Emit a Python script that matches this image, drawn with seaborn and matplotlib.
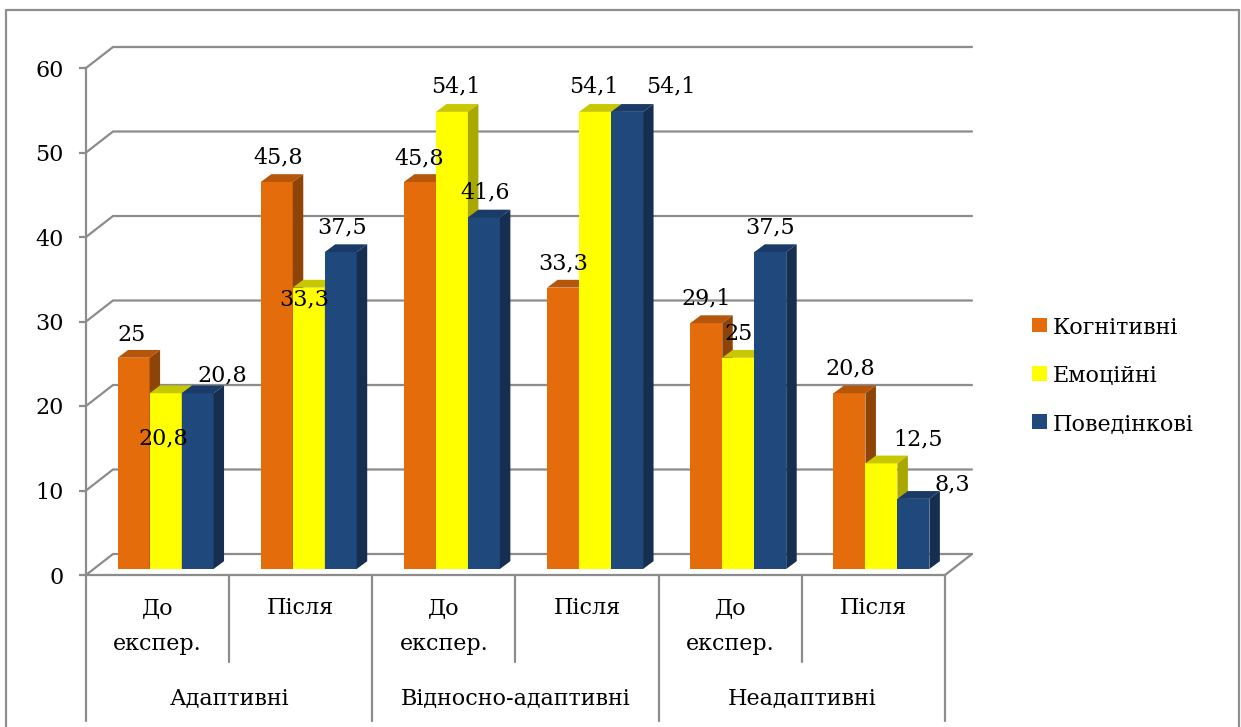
import numpy as np
import pandas as pd
import matplotlib
matplotlib.use("Agg")
import matplotlib.pyplot as plt
import matplotlib.transforms as mtransforms
from matplotlib.patches import Polygon, Rectangle
from matplotlib.lines import Line2D
import seaborn as sns

# ---- data -------------------------------------------------------------
groups = ["Адаптивні", "Відносно-адаптивні", "Неадаптивні"]
stages = ["До\nекспер.", "Після"]
series = ["Когнітивні", "Емоційні", "Поведінкові"]

cognitive = [25, 45.8, 45.8, 33.3, 29.1, 20.8]
emotional = [20.8, 33.3, 54.1, 54.1, 25, 12.5]
behavioral = [20.8, 37.5, 41.6, 54.1, 37.5, 8.3]

y_ticks = [0, 10, 20, 30, 40, 50, 60]

# ---- styling ------------------------------------------------------------
front_colors = ["#E46C0A", "#FFFF00", "#1F497D"]
top_colors = ["#B5560A", "#C8C800", "#1A3B68"]
side_colors = ["#8F4407", "#A8A800", "#162E50"]
grid_color = "#8C8C8C"
FS = 16

# value-label nudges (pixels, right / up) relative to each bar's top centre
label_nudges = {
    0: [(-2, 23), (1, 25), (-1, 24), (0, 24), (0, 25), (1, 25)],
    1: [(-2, -45), (-5, -12), (4, 25), (-1, 25), (0, 24), (37, 24)],
    2: [(25, 18), (1, 25), (1, 25), (44, 25), (0, 25), (39, 14)],
}

sns.set_theme(style="white")
plt.rcParams["font.family"] = ["DejaVu Serif", "Liberation Serif"]
plt.rcParams["text.color"] = "black"
plt.rcParams["ytick.color"] = "black"
plt.rcParams["xtick.color"] = "black"

W, H, DPI = 1241, 727, 100
fig = plt.figure(figsize=(W / DPI, H / DPI), dpi=DPI)
fig.patch.set_facecolor("white")

# front plane of the plot box, in pixels
x_left, x_right = 86, 945
y_zero, y_top = 575, 68
ax = fig.add_axes([x_left / W, 1 - y_zero / H,
                   (x_right - x_left) / W, (y_zero - y_top) / H])
ax.set_facecolor("none")

keys = [f"{g}|{s}" for g in groups for s in stages]
df = pd.DataFrame({
    "key": keys * 3,
    "series": np.repeat(series, len(keys)),
    "value": cognitive + emotional + behavioral,
})

sns.barplot(data=df, x="key", y="value", hue="series", order=keys,
            hue_order=series, palette=front_colors, width=0.67, dodge=True,
            saturation=1, legend=False, linewidth=0, errorbar=None, ax=ax)

ax.set_xlim(-0.5, len(keys) - 0.5)
ax.set_ylim(0, 60)

px_x = (x_right - x_left) / len(keys)   # pixels per category
px_y = (y_zero - y_top) / 60.0           # pixels per value unit

# depth of the back wall and of each bar (pixels -> data units)
wall_dx, wall_dy = 27 / px_x, 21 / px_y
bar_dx, bar_dy = 10.5 / px_x, 7.8 / px_y
bar_shift = mtransforms.ScaledTranslation(8 / DPI, 6 / DPI, fig.dpi_scale_trans)
bar_trans = ax.transData + bar_shift

# back wall gridlines with their diagonals on the left wall
x0, x1 = ax.get_xlim()
for v in y_ticks:
    ax.plot([x0, x0 + wall_dx, x1 + wall_dx], [v, v + wall_dy, v + wall_dy],
            color=grid_color, lw=1.6, clip_on=False, zorder=1,
            solid_joinstyle="miter")
# right edge of the floor
ax.plot([x1, x1 + wall_dx], [0, wall_dy], color=grid_color, lw=1.6,
        clip_on=False, zorder=1)

# pseudo-3D faces for each bar, drawn left to right
bars = []
for i, p in enumerate(ax.patches):
    s_idx = i // len(keys)
    c_idx = i % len(keys)
    bars.append((p.get_x(), p, s_idx, c_idx))
bars.sort(key=lambda b: b[0])

for k, (bx, p, s_idx, c_idx) in enumerate(bars):
    w = p.get_width()
    h = p.get_height()
    z = 3 + k * 0.01
    p.set_transform(bar_trans)
    p.set_clip_on(False)
    p.set_zorder(z)
    top = Polygon([(bx, h), (bx + bar_dx, h + bar_dy),
                   (bx + w + bar_dx, h + bar_dy), (bx + w, h)],
                  closed=True, facecolor=top_colors[s_idx], edgecolor="none",
                  transform=bar_trans, clip_on=False, zorder=z)
    side = Polygon([(bx + w, 0), (bx + w + bar_dx, bar_dy),
                    (bx + w + bar_dx, h + bar_dy), (bx + w, h)],
                   closed=True, facecolor=side_colors[s_idx], edgecolor="none",
                   transform=bar_trans, clip_on=False, zorder=z)
    ax.add_patch(top)
    ax.add_patch(side)

    nx, ny = label_nudges[s_idx][c_idx]
    txt = f"{h:g}".replace(".", ",")
    ax.annotate(txt, xy=(bx + w / 2, h), xycoords=bar_trans,
                xytext=(nx, ny), textcoords="offset pixels",
                ha="center", va="center", fontsize=FS, color="black",
                zorder=10, annotation_clip=False)

# axes lines and ticks
for side_name in ["top", "right"]:
    ax.spines[side_name].set_visible(False)
for side_name in ["left", "bottom"]:
    ax.spines[side_name].set_color(grid_color)
    ax.spines[side_name].set_linewidth(1.6)
    ax.spines[side_name].set_zorder(2)
ax.set_xticks([])
ax.set_xlabel("")
ax.set_ylabel("")
ax.set_yticks(y_ticks)
ax.set_yticklabels([str(t) for t in y_ticks], fontsize=FS, color="black")
ax.tick_params(axis="y", direction="out", length=5, width=1.6,
               color=grid_color, pad=11, labelcolor="black", left=True)

# two-level category axis
xfig = mtransforms.blended_transform_factory(ax.transData, fig.transFigure)


def fy(py):
    return 1 - py / H


for j in range(len(keys) + 1):
    xb = x0 + j
    bottom = 721 if j % 2 == 0 else 662
    fig.add_artist(Line2D([xb, xb], [fy(y_zero), fy(bottom)], transform=xfig,
                          color=grid_color, lw=1.6))

for j, key in enumerate(keys):
    g, s = key.split("|")
    for li, line in enumerate(s.split("\n")):
        fig.text(j, fy(614 + 36 * li), line, transform=xfig, ha="center",
                 va="baseline", fontsize=FS, color="black")

for gi, g in enumerate(groups):
    fig.text(2 * gi + 0.5, fy(704), g, transform=xfig, ha="center",
             va="baseline", fontsize=FS, color="black")

# legend
for si, name in enumerate(series):
    cy = 325 + si * 48
    fig.add_artist(Rectangle((1032 / W, fy(cy + 7.5)), 15 / W, 15 / H,
                             transform=fig.transFigure, facecolor=front_colors[si],
                             edgecolor="none"))
    fig.text(1053 / W, fy(cy + 9), name, ha="left", va="baseline", fontsize=FS,
             color="black")

# outer frame of the chart area
frame_kw = dict(transform=fig.transFigure, color="#8F8F8F", lw=1.6)
fig.add_artist(Line2D([6 / W, 6 / W], [0, fy(10)], **frame_kw))
fig.add_artist(Line2D([6 / W, 1239 / W], [fy(10), fy(10)], **frame_kw))
fig.add_artist(Line2D([1239 / W, 1239 / W], [fy(10), 0], **frame_kw))

fig.savefig("out.png", dpi=DPI)
